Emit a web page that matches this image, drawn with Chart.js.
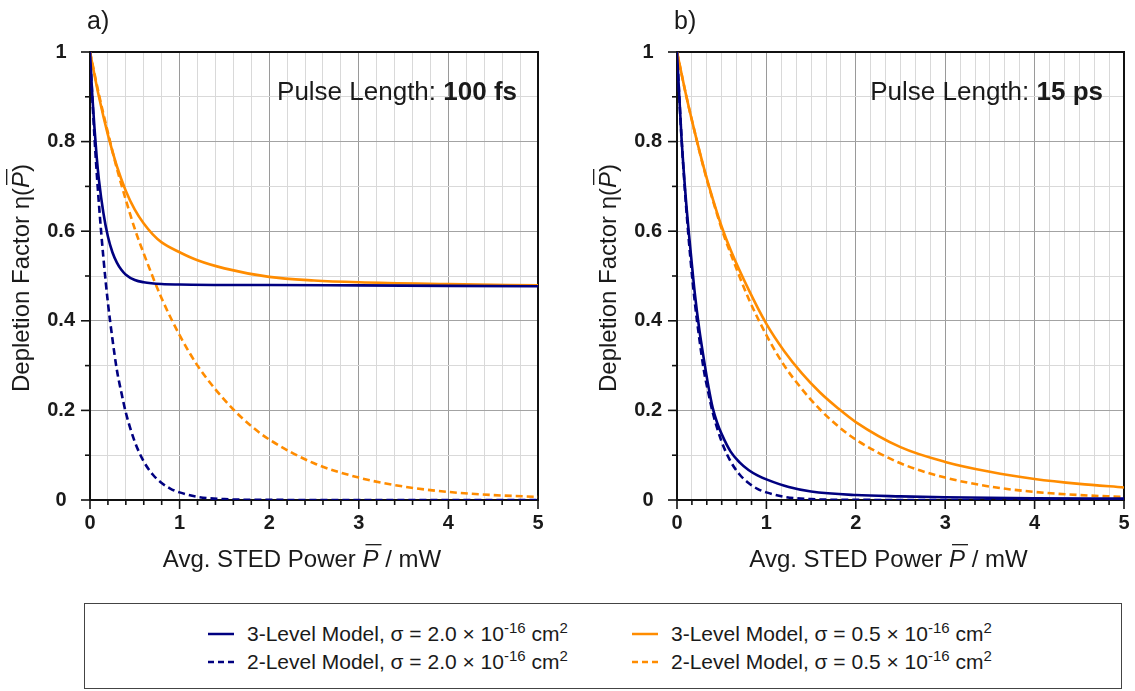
<!DOCTYPE html>
<html>
<head>
<meta charset="utf-8">
<script src="https://cdn.jsdelivr.net/npm/chart.js@4.4.1/dist/chart.umd.min.js"></script>
<style>
  html, body { margin: 0; padding: 0; background: #fff; }
  body { width: 1135px; height: 691px; position: relative; overflow: hidden; font-family: 'Liberation Sans', Arial, sans-serif; }
  canvas { position: absolute; top: 0; }
  #legend { position: absolute; left: 84px; top: 603px; width: 1038px; height: 86px; border: 1.5px solid #444; box-sizing: border-box; }
  .item { position: absolute; font-size: 21px; color: #1a1a1a; white-space: nowrap; line-height: 1; }
  .item svg { position: absolute; }
  sup { font-size: 15px; vertical-align: 0; position: relative; top: -8px; }
</style>
</head>
<body>
<canvas id="ca" width="560" height="580" style="left:0px;width:560px;height:580px"></canvas>
<canvas id="cb" width="548" height="580" style="left:587px;width:548px;height:580px"></canvas>
<div id="legend"></div>
<script>
// ---------- data ----------
const xTickLabels = ['0', '1', '2', '3', '4', '5'];
const yTickLabels = ['0', '0.2', '0.4', '0.6', '0.8', '1'];
const panelLabels = ['a)', 'b)'];
const pulseLengths = ['100 fs', '15 ps'];

const seriesNames = [
  '3-Level Model, σ = 2.0 × 10<sup>-16</sup> cm<sup>2</sup>',
  '2-Level Model, σ = 2.0 × 10<sup>-16</sup> cm<sup>2</sup>',
  '3-Level Model, σ = 0.5 × 10<sup>-16</sup> cm<sup>2</sup>',
  '2-Level Model, σ = 0.5 × 10<sup>-16</sup> cm<sup>2</sup>'
];

// panel a) 100 fs
const powerBlue3A = [0, 0.025, 0.05, 0.075, 0.1, 0.15, 0.2, 0.25, 0.3, 0.35, 0.4, 0.5, 0.6, 0.8, 1, 1.5, 2, 3, 4, 5];
const etaBlue3A   = [1, 0.905, 0.83, 0.765, 0.714, 0.64, 0.588, 0.553, 0.53, 0.514, 0.503, 0.491, 0.486, 0.482, 0.481, 0.48, 0.48, 0.479, 0.478, 0.477];
const powerOrange3A = [0, 0.1, 0.2, 0.3, 0.4, 0.5, 0.6, 0.7, 0.8, 1.0, 1.2, 1.5, 2, 2.5, 3, 4, 5];
const etaOrange3A   = [1, 0.9, 0.815, 0.745, 0.69, 0.648, 0.617, 0.593, 0.575, 0.553, 0.535, 0.517, 0.498, 0.49, 0.486, 0.482, 0.479];

// 2-level curves (same in both panels)
const powerBlue2 = [0, 0.05, 0.1, 0.15, 0.2, 0.25, 0.3, 0.35, 0.4, 0.5, 0.6, 0.7, 0.8, 0.9, 1.0, 1.2, 1.5, 2, 3, 4, 5];
const etaBlue2   = [1, 0.81, 0.66, 0.54, 0.44, 0.36, 0.29, 0.24, 0.195, 0.13, 0.086, 0.057, 0.038, 0.025, 0.017, 0.007, 0.002, 0.0003, 0, 0, 0];
const powerOrange2 = [0, 0.1, 0.2, 0.3, 0.4, 0.5, 0.6, 0.8, 1.0, 1.2, 1.4, 1.6, 1.8, 2.0, 2.5, 3, 3.5, 4, 4.5, 5];
const etaOrange2   = [1, 0.905, 0.82, 0.74, 0.67, 0.605, 0.55, 0.45, 0.368, 0.30, 0.247, 0.202, 0.165, 0.135, 0.082, 0.05, 0.03, 0.018, 0.011, 0.007];

// panel b) 15 ps
const powerBlue3B = [0, 0.05, 0.1, 0.15, 0.2, 0.25, 0.3, 0.35, 0.4, 0.45, 0.5, 0.6, 0.7, 0.8, 0.9, 1.0, 1.25, 1.5, 2, 2.5, 3, 4, 5];
const etaBlue3B   = [1, 0.81, 0.67, 0.56, 0.46, 0.38, 0.315, 0.255, 0.205, 0.172, 0.147, 0.108, 0.084, 0.067, 0.055, 0.046, 0.029, 0.019, 0.011, 0.008, 0.006, 0.004, 0.003];
const powerOrange3B = [0, 0.1, 0.2, 0.3, 0.4, 0.5, 0.6, 0.8, 1.0, 1.2, 1.4, 1.6, 1.8, 2.0, 2.5, 3, 3.5, 4, 4.5, 5];
const etaOrange3B   = [1, 0.905, 0.82, 0.742, 0.672, 0.61, 0.558, 0.47, 0.393, 0.332, 0.282, 0.24, 0.205, 0.174, 0.118, 0.085, 0.063, 0.047, 0.036, 0.028];

// ---------- styling ----------
const BLUE = '#000080';
const ORANGE = '#ff8c00';
const DASH = [7, 4];
const FONT = "'Liberation Sans', Arial, sans-serif";

function pts(xs, ys) { return xs.map((x, i) => ({ x: x, y: ys[i] })); }

function ds(xs, ys, color, dashed) {
  return {
    data: pts(xs, ys), borderColor: color, backgroundColor: color,
    borderWidth: 2.6, borderDash: dashed ? DASH : [], pointRadius: 0,
    cubicInterpolationMode: 'monotone', fill: false
  };
}

function isInt(v) { return Math.abs(v - Math.round(v)) < 1e-6; }
function isMajorY(v) { return Math.abs(v * 5 - Math.round(v * 5)) < 1e-6; }

function drawRuns(ctx, runs, x, y, align) {
  let w = 0;
  runs.forEach(r => { ctx.font = r.font; r.w = ctx.measureText(r.t).width; w += r.w; });
  let cx = align === 'center' ? x - w / 2 : (align === 'right' ? x - w : x);
  ctx.textAlign = 'left';
  ctx.textBaseline = 'alphabetic';
  runs.forEach(r => {
    ctx.font = r.font;
    ctx.fillText(r.t, cx, y);
    if (r.overline) {
      ctx.save();
      ctx.strokeStyle = ctx.fillStyle;
      ctx.lineWidth = 1.3;
      ctx.beginPath();
      ctx.moveTo(cx + 3, y - r.size * 0.93);
      ctx.lineTo(cx + r.w + 3, y - r.size * 0.93);
      ctx.stroke();
      ctx.restore();
    }
    cx += r.w;
  });
}

function makeChart(id, datasets, minorStep, rightPad, panelIdx) {
  const nMinor = Math.round(5 / minorStep);
  const decor = {
    id: 'decor',
    beforeDatasetsDraw(chart) {
      const ctx = chart.ctx, a = chart.chartArea;
      const xs = chart.scales.x, ys = chart.scales.y;
      ctx.save();
      ctx.strokeStyle = '#111';
      ctx.lineWidth = 1.6;
      xs.ticks.forEach(t => {
        const px = xs.getPixelForValue(t.value);
        const len = isInt(t.value) ? 9 : 5;
        ctx.beginPath(); ctx.moveTo(px, a.bottom); ctx.lineTo(px, a.bottom + len); ctx.stroke();
      });
      ys.ticks.forEach(t => {
        const py = ys.getPixelForValue(t.value);
        const len = isMajorY(t.value) ? 9 : 5;
        ctx.beginPath(); ctx.moveTo(a.left, py); ctx.lineTo(a.left - len, py); ctx.stroke();
      });
      ctx.lineWidth = 2;
      ctx.strokeRect(a.left, a.top, a.right - a.left, a.bottom - a.top);
      ctx.restore();
    },
    afterDraw(chart) {
      const ctx = chart.ctx, a = chart.chartArea;
      ctx.save();
      ctx.fillStyle = '#1a1a1a';
      drawRuns(ctx, [{ t: panelLabels[panelIdx], font: '25px ' + FONT }], a.left - 3, 29, 'left');
      drawRuns(ctx, [
        { t: 'Pulse Length: ', font: '26px ' + FONT },
        { t: pulseLengths[panelIdx], font: 'bold 26px ' + FONT }
      ], a.right - 21, 100, 'right');
      drawRuns(ctx, [
        { t: 'Avg. STED Power ', font: '24px ' + FONT },
        { t: 'P', font: 'italic 24px ' + FONT, overline: true, size: 24 },
        { t: ' / mW', font: '24px ' + FONT }
      ], (a.left + a.right) / 2 - 12, 567, 'center');
      ctx.translate(a.left - 61, (a.top + a.bottom) / 2 + 2);
      ctx.rotate(-Math.PI / 2);
      drawRuns(ctx, [
        { t: 'Depletion Factor η(', font: '24px ' + FONT },
        { t: 'P', font: 'italic 24px ' + FONT, overline: true, size: 24 },
        { t: ')', font: '24px ' + FONT }
      ], 0, 0, 'center');
      ctx.restore();
    }
  };

  return new Chart(document.getElementById(id), {
    type: 'line',
    data: { datasets: datasets },
    plugins: [decor],
    options: {
      responsive: false, animation: false, devicePixelRatio: 1,
      layout: { padding: { left: 0, top: 52, right: rightPad, bottom: 0 } },
      plugins: { legend: { display: false }, tooltip: { enabled: false } },
      scales: {
        x: {
          type: 'linear', min: 0, max: 5,
          afterBuildTicks(s) {
            const t = [];
            for (let i = 0; i <= nMinor; i++) t.push({ value: i * minorStep });
            s.ticks = t;
          },
          afterFit(s) { s.height = 80; s.paddingLeft = 0; s.paddingRight = 0; },
          grid: {
            drawTicks: false,
            color: c => (c.tick && isInt(c.tick.value)) ? '#9a9a9a' : '#d9d9d9',
            lineWidth: 1
          },
          border: { display: false },
          ticks: {
            autoSkip: false, maxRotation: 0, padding: 11,
            color: '#1a1a1a', font: { family: FONT, size: 20, weight: 'bold' },
            callback: v => isInt(v) ? xTickLabels[Math.round(v)] : ''
          }
        },
        y: {
          type: 'linear', min: 0, max: 1,
          afterBuildTicks(s) {
            const t = [];
            for (let i = 0; i <= 10; i++) t.push({ value: i / 10 });
            s.ticks = t;
          },
          afterFit(s) { s.width = 90; s.paddingTop = 0; s.paddingBottom = 0; },
          grid: {
            drawTicks: false,
            color: c => (c.tick && isMajorY(c.tick.value)) ? '#a3a3a3' : '#d9d9d9',
            lineWidth: 1
          },
          border: { display: false },
          ticks: {
            autoSkip: false, padding: 15, crossAlign: 'center',
            color: '#1a1a1a', font: { family: FONT, size: 20, weight: 'bold' },
            callback: v => isMajorY(v) ? yTickLabels[Math.round(v * 5)] : ''
          }
        }
      }
    }
  });
}

makeChart('ca', [
  ds(powerBlue3A, etaBlue3A, BLUE, false),
  ds(powerOrange3A, etaOrange3A, ORANGE, false),
  ds(powerBlue2, etaBlue2, BLUE, true),
  ds(powerOrange2, etaOrange2, ORANGE, true)
], 0.2, 22, 0);

makeChart('cb', [
  ds(powerBlue3B, etaBlue3B, BLUE, false),
  ds(powerOrange3B, etaOrange3B, ORANGE, false),
  ds(powerBlue2, etaBlue2, BLUE, true),
  ds(powerOrange2, etaOrange2, ORANGE, true)
], 1 / 6, 11, 1);

// ---------- legend ----------
const legendPos = [
  { lx: 123, ly: 30, color: BLUE, dashed: false },
  { lx: 123, ly: 58, color: BLUE, dashed: true },
  { lx: 547, ly: 30, color: ORANGE, dashed: false },
  { lx: 547, ly: 58, color: ORANGE, dashed: true }
];
const leg = document.getElementById('legend');
seriesNames.forEach((name, i) => {
  const p = legendPos[i];
  const d = document.createElement('div');
  d.className = 'item';
  d.style.left = p.lx + 'px';
  d.style.top = (p.ly - 11) + 'px';
  d.innerHTML = '<svg width="26" height="4" style="left:0;top:9px"><line x1="0" y1="2" x2="26" y2="2" stroke="' +
    p.color + '" stroke-width="2.5"' + (p.dashed ? ' stroke-dasharray="6 4"' : '') + '/></svg>' +
    '<span style="margin-left:39px">' + name + '</span>';
  leg.appendChild(d);
});
</script>
</body>
</html>
